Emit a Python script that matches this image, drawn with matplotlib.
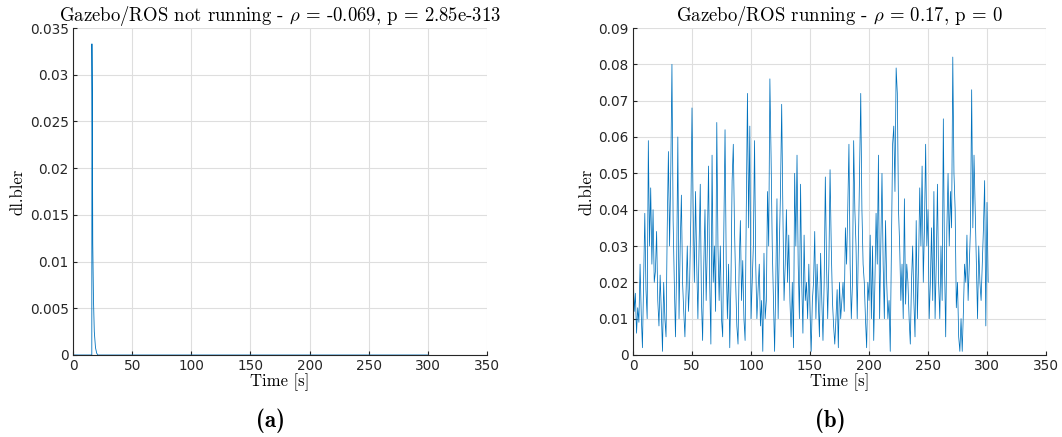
import matplotlib
matplotlib.use("Agg")
import matplotlib.pyplot as plt
import numpy as np

plt.rcParams['mathtext.fontset'] = 'cm'
plt.rcParams['axes.unicode_minus'] = False

# Left panel: Gazebo/ROS not running
t_left = [0, 15.9, 16.0, 16.3, 16.7, 17.3, 18.0, 19.0, 20.0, 21.0, 300.0]
bler_left = [0, 0, 0.0333, 0.028, 0.012, 0.006, 0.0025, 0.0008, 0.0002, 0, 0]

# Right panel: Gazebo/ROS running (1 s samples, t = 0..301)
bler_right = [
    0.025, 0.012, 0.017, 0.006, 0.013, 0.009, 0.025, 0.011, 0.002, 0.020,
    0.039, 0.018, 0.010, 0.059, 0.030, 0.046, 0.025, 0.040, 0.020, 0.023,
    0.034, 0.015, 0.008, 0.022, 0.012, 0.001, 0.020, 0.010, 0.005, 0.035,
    0.056, 0.030, 0.050, 0.080, 0.037, 0.020, 0.005, 0.025, 0.060, 0.010,
    0.030, 0.044, 0.020, 0.012, 0.005, 0.018, 0.030, 0.012, 0.020, 0.038,
    0.068, 0.040, 0.020, 0.045, 0.025, 0.010, 0.030, 0.047, 0.015, 0.004,
    0.025, 0.040, 0.015, 0.030, 0.052, 0.020, 0.003, 0.055, 0.020, 0.030,
    0.012, 0.064, 0.030, 0.015, 0.030, 0.010, 0.005, 0.035, 0.062, 0.025,
    0.010, 0.025, 0.002, 0.020, 0.048, 0.058, 0.035, 0.020, 0.008, 0.003,
    0.025, 0.037, 0.015, 0.026, 0.010, 0.004, 0.040, 0.072, 0.035, 0.063,
    0.010, 0.020, 0.030, 0.059, 0.025, 0.010, 0.018, 0.025, 0.008, 0.015,
    0.001, 0.028, 0.010, 0.015, 0.045, 0.030, 0.076, 0.055, 0.030, 0.015,
    0.001, 0.020, 0.043, 0.010, 0.030, 0.045, 0.069, 0.040, 0.015, 0.025,
    0.040, 0.020, 0.033, 0.015, 0.005, 0.020, 0.002, 0.050, 0.030, 0.055,
    0.025, 0.010, 0.047, 0.020, 0.006, 0.033, 0.015, 0.020, 0.010, 0.025,
    0.012, 0.001, 0.015, 0.020, 0.034, 0.010, 0.025, 0.015, 0.005, 0.028,
    0.015, 0.004, 0.020, 0.049, 0.025, 0.010, 0.025, 0.051, 0.030, 0.015,
    0.008, 0.003, 0.010, 0.018, 0.002, 0.020, 0.010, 0.015, 0.020, 0.012,
    0.035, 0.025, 0.040, 0.058, 0.025, 0.010, 0.020, 0.059, 0.040, 0.030,
    0.010, 0.030, 0.050, 0.072, 0.040, 0.025, 0.020, 0.010, 0.002, 0.020,
    0.015, 0.033, 0.010, 0.030, 0.004, 0.020, 0.039, 0.025, 0.055, 0.010,
    0.030, 0.050, 0.025, 0.010, 0.037, 0.020, 0.010, 0.015, 0.001, 0.030,
    0.058, 0.063, 0.045, 0.079, 0.072, 0.040, 0.030, 0.015, 0.025, 0.010,
    0.043, 0.014, 0.025, 0.020, 0.010, 0.003, 0.020, 0.030, 0.015, 0.005,
    0.037, 0.010, 0.025, 0.046, 0.030, 0.052, 0.020, 0.035, 0.058, 0.030,
    0.040, 0.010, 0.020, 0.035, 0.015, 0.045, 0.010, 0.025, 0.047, 0.020,
    0.010, 0.030, 0.015, 0.065, 0.025, 0.005, 0.035, 0.050, 0.030, 0.045,
    0.035, 0.082, 0.050, 0.040, 0.013, 0.020, 0.005, 0.001, 0.010, 0.001,
    0.012, 0.025, 0.020, 0.033, 0.015, 0.025, 0.035, 0.073, 0.035, 0.055,
    0.040, 0.025, 0.010, 0.030, 0.020, 0.015, 0.025, 0.035, 0.048, 0.008,
    0.042, 0.020,
]
t_right = np.arange(len(bler_right))

titles = ["Gazebo/ROS not running - $\\rho$ = -0.069, p = 2.85e-313",
          "Gazebo/ROS running - $\\rho$ = 0.17, p = 0"]
captions = ["(a)", "(b)"]
yticks_left = [0, 0.005, 0.01, 0.015, 0.02, 0.025, 0.03, 0.035]
ytick_labels_left = ["0", "0.005", "0.01", "0.015", "0.02", "0.025", "0.03", "0.035"]
yticks_right = [0, 0.01, 0.02, 0.03, 0.04, 0.05, 0.06, 0.07, 0.08, 0.09]
ytick_labels_right = ["0", "0.01", "0.02", "0.03", "0.04", "0.05", "0.06", "0.07", "0.08", "0.09"]
xticks = [0, 50, 100, 150, 200, 250, 300, 350]

W, H = 1062, 437
fig = plt.figure(figsize=(W / 100, H / 100), dpi=100)

line_color = '#0072BD'
axis_color = '#262626'
serif = 'cmr10'

def setup(ax, yt, ytl, ymax, title):
    ax.set_xlim(0, 350)
    ax.set_ylim(0, ymax)
    ax.set_xticks(xticks)
    ax.set_xticklabels([str(v) for v in xticks])
    ax.set_yticks(yt)
    ax.set_yticklabels(ytl)
    ax.grid(True, color='#dedede', linewidth=0.8)
    ax.set_axisbelow(True)
    for s in ['top', 'right']:
        ax.spines[s].set_visible(False)
    for s in ['left', 'bottom']:
        ax.spines[s].set_color(axis_color)
        ax.spines[s].set_linewidth(0.8)
    ax.tick_params(direction='in', length=3, width=0.8, colors=axis_color,
                   labelsize=9.8, pad=3)
    for lab in ax.get_xticklabels() + ax.get_yticklabels():
        lab.set_fontfamily('DejaVu Sans')
    ax.set_title(title, fontfamily=serif, fontsize=13.5, pad=3, color='black')
    ax.set_xlabel('Time [s]', fontfamily=serif, fontsize=12, labelpad=0)
    ax.set_ylabel('dl.bler', fontfamily=serif, fontsize=12, labelpad=3)

ax1 = fig.add_axes([73 / W, (H - 355) / H, 414 / W, 327 / H])
ax1.plot(t_left, bler_left, color=line_color, linewidth=0.6)
setup(ax1, yticks_left, ytick_labels_left, 0.035, titles[0])

ax2 = fig.add_axes([633 / W, (H - 355) / H, 413 / W, 327 / H])
ax2.plot(t_right, bler_right, color=line_color, linewidth=0.55)
setup(ax2, yticks_right, ytick_labels_right, 0.09, titles[1])

fig.text(270 / W, 1 - 421 / H, captions[0], fontfamily='cmb10', fontsize=16.5,
         ha='center', va='center')
fig.text(830 / W, 1 - 421 / H, captions[1], fontfamily='cmb10', fontsize=16.5,
         ha='center', va='center')

fig.savefig('out.png', dpi=100)
